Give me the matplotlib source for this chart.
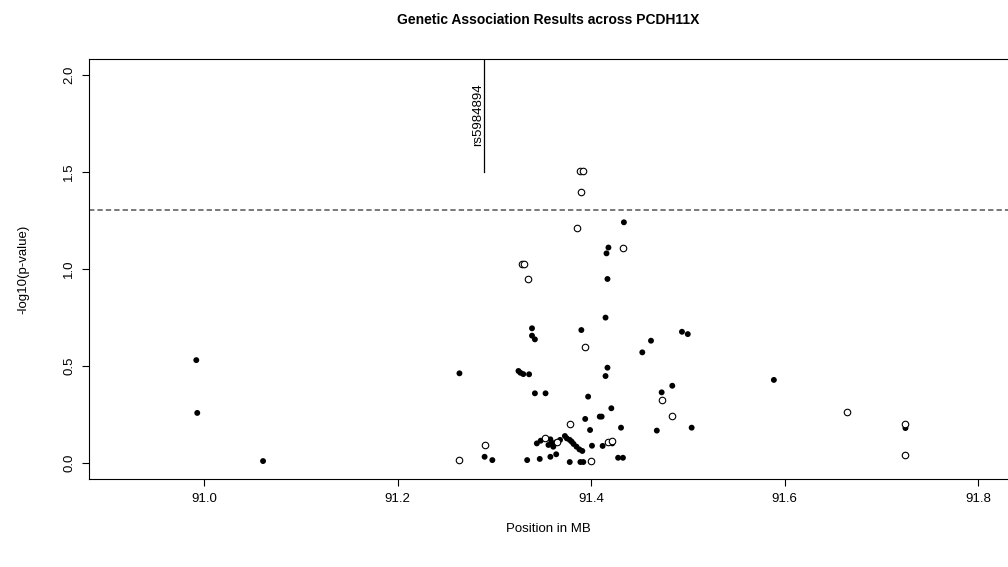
import matplotlib
matplotlib.use("Agg")
import matplotlib.pyplot as plt

plt.rcParams["font.family"] = ["Liberation Sans", "DejaVu Sans"]

# ============================================================
# Data
# ============================================================

# SNPs drawn as filled dots
filled_pos = [
    90.992, 90.993, 91.061, 91.264, 91.290, 91.298, 91.325, 91.327, 91.330,
    91.336, 91.339, 91.339, 91.342, 91.342, 91.353, 91.390, 91.415, 91.397,
    91.417, 91.415, 91.421, 91.394, 91.409, 91.411, 91.399, 91.412, 91.401,
    91.422, 91.344, 91.348, 91.358, 91.359, 91.356, 91.361, 91.363, 91.368,
    91.373, 91.375, 91.378, 91.380, 91.382, 91.385, 91.388, 91.391, 91.334,
    91.347, 91.358, 91.364, 91.378, 91.389, 91.392, 91.428, 91.433, 91.494,
    91.500, 91.462, 91.453, 91.484, 91.473, 91.431, 91.468, 91.504, 91.589,
    91.725, 91.725, 91.434, 91.418, 91.416, 91.417,
]
filled_logp = [
    0.530, 0.258, 0.010, 0.462, 0.032, 0.015, 0.474, 0.465, 0.458,
    0.457, 0.694, 0.656, 0.637, 0.359, 0.359, 0.685, 0.749, 0.342,
    0.491, 0.448, 0.282, 0.227, 0.239, 0.239, 0.170, 0.088, 0.089,
    0.101, 0.101, 0.115, 0.122, 0.101, 0.093, 0.084, 0.105, 0.119,
    0.139, 0.127, 0.119, 0.110, 0.098, 0.084, 0.070, 0.062, 0.015,
    0.021, 0.032, 0.045, 0.005, 0.005, 0.005, 0.027, 0.027, 0.676,
    0.664, 0.630, 0.570, 0.398, 0.364, 0.182, 0.167, 0.182, 0.428,
    0.180, 0.040, 1.240, 1.110, 1.080, 0.948,
]

# SNPs drawn as open circles
open_pos = [
    91.264, 91.290, 91.329, 91.331, 91.335, 91.394, 91.378, 91.352, 91.365,
    91.400, 91.418, 91.422, 91.473, 91.484, 91.389, 91.392, 91.390, 91.386,
    91.433, 91.665, 91.725, 91.725,
]
open_logp = [
    0.015, 0.093, 1.023, 1.023, 0.948, 0.599, 0.199, 0.127, 0.110,
    0.012, 0.110, 0.113, 0.324, 0.242, 1.504, 1.504, 1.396, 1.210,
    1.107, 0.263, 0.200, 0.040,
]

snp_name = "rs5984894"
snp_pos = 91.289
snp_line_bottom = 1.5
snp_text_y = 1.795

threshold = 1.301  # -log10(0.05)

x_ticks = [91.0, 91.2, 91.4, 91.6, 91.8]
y_ticks = [0.0, 0.5, 1.0, 1.5, 2.0]

# ============================================================
# Plot
# ============================================================

W, H = 1008, 567
fig = plt.figure(figsize=(W / 100, H / 100), dpi=100)
ax = fig.add_axes([89 / W, 88 / H, (W - 89) / W, (479 - 59) / H])

ax.scatter(filled_pos, filled_logp, s=18, c="black", edgecolors="none", zorder=3)
ax.scatter(open_pos, open_logp, s=22, facecolors="white", edgecolors="black",
           linewidths=0.8, zorder=4)

ax.axhline(threshold, color="#555555", lw=1.1, dashes=(3.5, 2.0), zorder=2)

ax.plot([snp_pos, snp_pos], [snp_line_bottom, 2.2], color="black", lw=0.9, zorder=2)
ax.text(snp_pos - 0.006, snp_text_y, snp_name, rotation=90, ha="center",
        va="center", fontsize=9.5)

ax.set_xlim(90.8811, 91.831)
ax.set_ylim(-0.0824, 2.0812)

ax.set_xticks(x_ticks)
ax.set_xticklabels([f"{t:.1f}" for t in x_ticks])
ax.set_yticks(y_ticks)
ax.set_yticklabels([f"{t:.1f}" for t in y_ticks], rotation=90, va="center")

ax.tick_params(direction="out", length=5, width=0.8, labelsize=9.5, colors="black")
ax.tick_params(axis="x", pad=5)
ax.tick_params(axis="y", pad=5)
ax.spines["right"].set_visible(False)
for side in ["left", "top", "bottom"]:
    ax.spines[side].set_linewidth(0.8)

ax.set_xlabel("Position in MB", fontsize=9.5, labelpad=13)
ax.set_ylabel("-log10(p-value)", fontsize=9.5, labelpad=24)

fig.text(548 / W, 1 - 20 / H, "Genetic Association Results across PCDH11X",
         ha="center", va="center", fontsize=10, fontweight="bold")

fig.savefig("out.png", dpi=100)
